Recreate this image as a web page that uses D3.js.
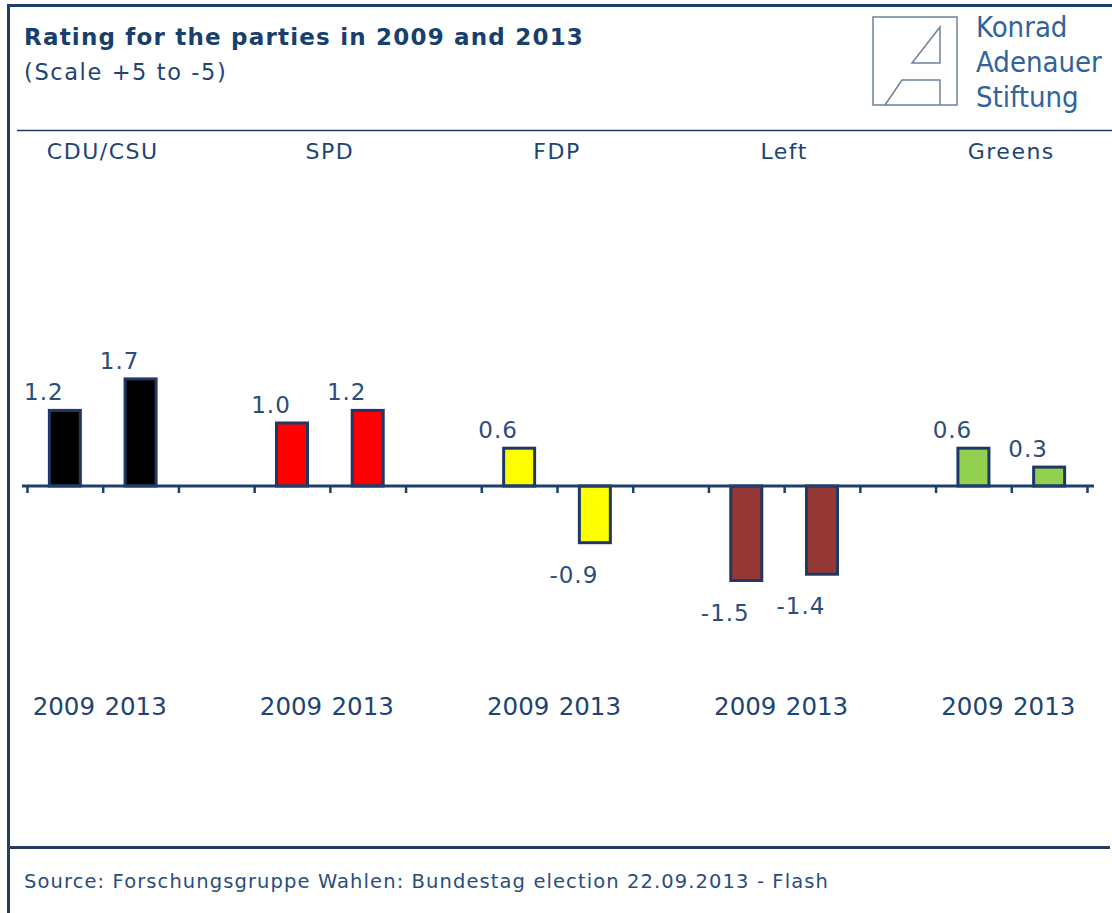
<!DOCTYPE html>
<html>
<head>
<meta charset="utf-8">
<script src="https://cdn.jsdelivr.net/npm/d3@7"></script>
<style>
  body { margin: 0; background: #fff; }
  svg { display: block; }
</style>
</head>
<body>
<div class="chart"></div>
<script>
// Data
var parties = ["CDU/CSU", "SPD", "FDP", "Left", "Greens"];
var years = ["2009", "2013"];
var ratings2009 = [1.2, 1.0, 0.6, -1.5, 0.6];
var ratings2013 = [1.7, 1.2, -0.9, -1.4, 0.3];
var partyColors = ["#000000", "#ff0000", "#ffff00", "#953735", "#92d050"];
var scaleTicks = [-5, 5];

var w = 1112, h = 913;
var navy = "#1f3f6b";
var textColor = "#1d4474";

var svg = d3.select(".chart")
            .append("svg")
            .attr("width", w)
            .attr("height", h);

svg.append("rect").attr("width", w).attr("height", h).attr("fill", "#fff");

//Build the bars, one slot per bar and an empty slot between parties
var bars = [];
var slots = [];
parties.forEach(function(p, i){
  years.forEach(function(yr, j){
    var v = j == 0 ? ratings2009[i] : ratings2013[i];
    bars.push({party: p, year: yr, yi: j, value: v, color: partyColors[i], key: p + "-" + yr});
    slots.push(p + "-" + yr);
  });
  if(i < parties.length - 1) slots.push("gap" + i);
});

var x = d3.scaleBand()
          .domain(slots)
          .range([27, 1087])
          .paddingInner(0);

var slotIndex = d3.scaleLinear()
                  .domain([0, slots.length])
                  .range([27, 1087]);

var y = d3.scaleLinear()
          .domain(scaleTicks)
          .range([801, 171]);

var barW = 31;

//Frame
svg.append("line").attr("x1", 7).attr("x2", w).attr("y1", 5.5).attr("y2", 5.5)
   .attr("stroke", navy).attr("stroke-width", 3);
svg.append("line").attr("x1", 8.5).attr("x2", 8.5).attr("y1", 4).attr("y2", h)
   .attr("stroke", navy).attr("stroke-width", 3);
svg.append("line").attr("x1", 17).attr("x2", w).attr("y1", 130.5).attr("y2", 130.5)
   .attr("stroke", navy).attr("stroke-width", 1.5);
svg.append("line").attr("x1", 8).attr("x2", 1110).attr("y1", 847.5).attr("y2", 847.5)
   .attr("stroke", "#223f5c").attr("stroke-width", 3);

//Title
svg.append("text").attr("x", 24).attr("y", 45)
   .style("font-family", "DejaVu Sans").style("font-weight", "bold")
   .style("font-size", "23px").style("letter-spacing", "1.2px").attr("fill", "#17406e")
   .text("Rating for the parties in 2009 and 2013");
svg.append("text").attr("x", 24).attr("y", 80)
   .style("font-family", "DejaVu Sans").style("font-size", "22.5px")
   .style("letter-spacing", "1.6px").attr("fill", textColor)
   .text("(Scale +5 to -5)");

//Logo
var logo = svg.append("g").attr("fill", "none").attr("stroke", "#6d819c").attr("stroke-width", 1.5);
logo.append("rect").attr("x", 873).attr("y", 17).attr("width", 84).attr("height", 88);
logo.append("path").attr("d", "M940,27 L940,63 L912,63 Z");
logo.append("path").attr("d", "M885,105 L902,80 L940,80 L940,105");
var logoText = ["Konrad", "Adenauer", "Stiftung"];
svg.selectAll(".logotext")
   .data(logoText)
   .enter()
   .append("text")
   .attr("class", "logotext")
   .attr("x", 976)
   .attr("y", function(d, i){ return 37 + i * 35; })
   .style("font-family", "DejaVu Sans Condensed, DejaVu Sans")
   .style("font-size", "29px")
   .attr("fill", "#30639a")
   .text(function(d){ return d; });

//Party names
svg.selectAll(".party")
   .data(parties)
   .enter()
   .append("text")
   .attr("class", "party")
   .attr("x", function(d){ return (x(d + "-2009") + x(d + "-2013") + x.bandwidth()) / 2; })
   .attr("y", 159)
   .attr("text-anchor", "middle")
   .style("font-family", "DejaVu Sans")
   .style("font-size", "22px")
   .style("letter-spacing", "1.5px")
   .attr("fill", textColor)
   .text(function(d){ return d; });

//Bars
svg.selectAll(".bar")
   .data(bars)
   .enter()
   .append("rect")
   .attr("class", "bar")
   .attr("x", function(d){ return x(d.key) + (x.bandwidth() - barW) / 2; })
   .attr("y", function(d){ return Math.min(y(d.value), y(0)); })
   .attr("width", barW)
   .attr("height", function(d){ return Math.abs(y(d.value) - y(0)); })
   .attr("fill", function(d){ return d.color; })
   .attr("stroke", "#1f3864")
   .attr("stroke-width", 3);

//Zero axis with ticks on the slot boundaries
var xAxis = d3.axisBottom(slotIndex)
              .tickValues(d3.range(slots.length + 1))
              .tickFormat("")
              .tickSize(7)
              .tickSizeOuter(0);

var axisG = svg.append("g")
   .attr("transform", "translate(0," + y(0) + ")")
   .call(xAxis);
axisG.select(".domain").remove();
axisG.selectAll(".tick line").attr("stroke", navy).attr("stroke-width", 2.5);
svg.append("line").attr("x1", 22).attr("x2", 1094).attr("y1", y(0)).attr("y2", y(0))
   .attr("stroke", navy).attr("stroke-width", 3);

//Value labels
svg.selectAll(".value")
   .data(bars)
   .enter()
   .append("text")
   .attr("class", "value")
   .attr("x", function(d){ return x(d.key) + x.bandwidth() / 2 - 21; })
   .attr("y", function(d){ return d.value >= 0 ? y(d.value) - 10 : y(d.value) + 40; })
   .attr("text-anchor", "middle")
   .style("font-family", "DejaVu Sans")
   .style("font-size", "23px")
   .style("letter-spacing", "1px")
   .attr("fill", "#2a4d7c")
   .text(function(d){ return d.value.toFixed(1); });

//Year labels
svg.selectAll(".year")
   .data(bars)
   .enter()
   .append("text")
   .attr("class", "year")
   .attr("x", function(d){ return x(d.key) + x.bandwidth() / 2 - 1 - d.yi * 4; })
   .attr("y", 715)
   .attr("text-anchor", "middle")
   .style("font-family", "DejaVu Sans")
   .style("font-size", "24.5px")
   .attr("fill", textColor)
   .text(function(d){ return d.year; });

//Source
svg.append("text").attr("x", 24).attr("y", 888)
   .style("font-family", "DejaVu Sans").style("font-size", "19.5px")
   .style("letter-spacing", "1.1px").attr("fill", "#2a4d7c")
   .text("Source: Forschungsgruppe Wahlen: Bundestag election 22.09.2013 - Flash");
</script>
</body>
</html>
